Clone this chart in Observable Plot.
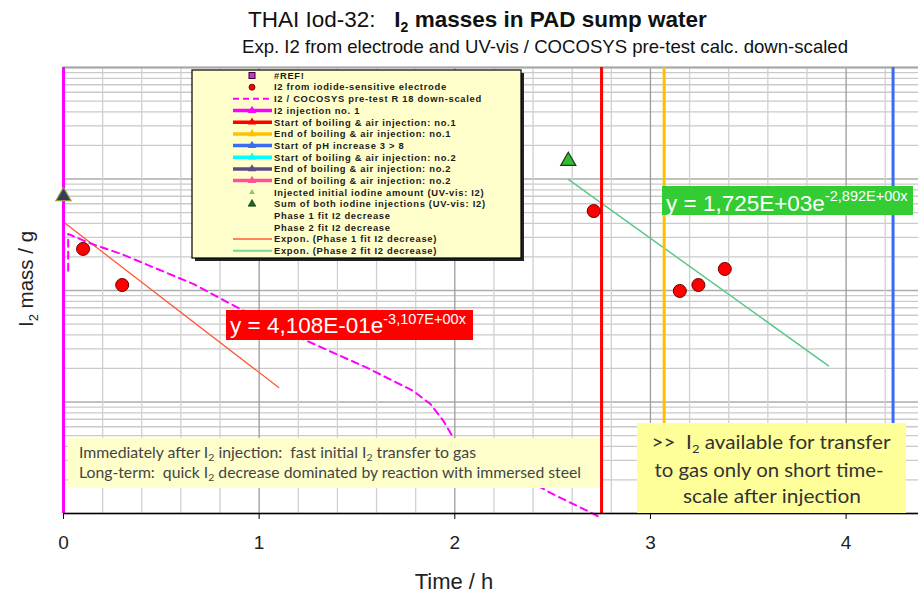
<!DOCTYPE html>
<html><head><meta charset="utf-8">
<script src="https://cdn.jsdelivr.net/npm/d3@7"></script>
<script src="https://cdn.jsdelivr.net/npm/@observablehq/plot@0.6"></script>
<style>
body{margin:0;background:#fff;}
#chart{position:relative;width:918px;height:594px;}
</style>
</head><body><div id="chart"></div>
<script>
// ---- data ----
const electrodeTime = [0.10, 0.30, 2.71, 3.15, 3.245, 3.38];
const electrodeMass = [0.236, 0.112, 0.516, 0.099, 0.112, 0.156];

const cocosysTime = [0.024, 0.024, 0.129, 0.300, 0.666, 0.904, 1.211, 1.553, 1.788, 1.875, 1.942, 1.993, 2.489, 2.73];
const cocosysMass = [0.15, 0.321, 0.268, 0.211, 0.114, 0.068, 0.0375, 0.0202, 0.01256, 0.0096, 0.00676, 0.00475, 0.00153, 0.00095];

const initialInjTime = [0];
const initialInjMass = [0.70];
const sumInjTime = [2.58];
const sumInjMass = [1.45];

const fit1Time = [0, 1.10];
const fit1Mass = [0.4108, 0.01348];
const fit2Time = [2.58, 3.91];
const fit2Mass = [0.991, 0.0211];

const eventTime = [0, 2.75, 3.07, 4.24];
const eventColor = ["#ff00ff", "#ff0000", "#ffc000", "#3b6cf0"];

const xTicks = [0, 1, 2, 3, 4];
const xMinorGrid = [0.2,0.4,0.6,0.8,1.2,1.4,1.6,1.8,2.2,2.4,2.6,2.8,3.2,3.4,3.6,3.8,4.2];
const yDecades = [0.001, 0.01, 0.1, 1, 10];
const yMultipliers = [2,3,4,5,6,7,8,9];

const legendLabels = [
  "#REF!",
  "I2 from iodide-sensitive electrode",
  "I2 / COCOSYS pre-test R 18 down-scaled",
  "I2 injection no. 1",
  "Start of boiling & air injection: no.1",
  "End of boiling & air injection: no.1",
  "Start of pH increase 3 > 8",
  "Start of boiling & air injection: no.2",
  "End of boiling & air injection: no.2",
  "End of boiling & air injection: no.2",
  "Injected initial iodine amount (UV-vis: I2)",
  "Sum of both iodine injections (UV-vis: I2)",
  "Phase 1 fit I2 decrease",
  "Phase 2 fit I2 decrease",
  "Expon. (Phase 1 fit I2 decrease)",
  "Expon. (Phase 2 fit I2 decrease)"
];
const legendLineColors = ["#ff00ff","#ff0000","#ffc000","#3b6cf0","#00ffff","#5c4b8a","#ff4f9a"];

// ---- build tables ----
const electrode = electrodeTime.map((t,i)=>({t, m: electrodeMass[i]}));
const cocosys = cocosysTime.map((t,i)=>({t, m: cocosysMass[i]}));
const initInj = initialInjTime.map((t,i)=>({t, m: initialInjMass[i]}));
const sumInj = sumInjTime.map((t,i)=>({t, m: sumInjMass[i]}));
const fit1 = fit1Time.map((t,i)=>({t, m: fit1Mass[i]}));
const fit2 = fit2Time.map((t,i)=>({t, m: fit2Mass[i]}));
const yMinorGrid = yDecades.slice(0,-1).flatMap(d => yMultipliers.map(k => +(d*k).toPrecision(3)));

const plot = Plot.plot({
  width: 918, height: 594,
  marginTop: 67, marginBottom: 81, marginLeft: 63, marginRight: 0,
  style: {fontFamily: "'Liberation Sans', Arial, sans-serif", background: "#fff", overflow: "visible"},
  x: {domain: [0, 4.37]},
  y: {type: "log", domain: [0.001, 10], axis: null},
  marks: [
    Plot.ruleY(yMinorGrid, {stroke: "#cacaca", strokeWidth: 1.3}),
    Plot.ruleY(yDecades, {stroke: "#adadad", strokeWidth: 1.6}),
    Plot.ruleX(xMinorGrid, {stroke: "#d0d0d0", strokeWidth: 1.3}),
    Plot.ruleX(xTicks.slice(1), {stroke: "#9c9c9c", strokeWidth: 1.3}),
    Plot.ruleY([10], {stroke: "#a8a8a8", strokeWidth: 2}),
    Plot.line(fit1, {x: "t", y: "m", stroke: "#ff5a3a", strokeWidth: 1.3}),
    Plot.line(fit2, {x: "t", y: "m", stroke: "#5cc88a", strokeWidth: 1.5}),
    Plot.line(cocosys, {x: "t", y: "m", stroke: "#ff00ff", strokeWidth: 2, strokeDasharray: "7,5"}),
    ...eventTime.map((t,i) => Plot.ruleX([t], {stroke: eventColor[i], strokeWidth: 3})),
    Plot.ruleY([0.001], {stroke: "#000", strokeWidth: 1.5}),
    Plot.axisX({ticks: xTicks, tickSize: 6, tickPadding: 16, fontSize: 19, label: null, tickFormat: d => d, fill: "#222"}),
    Plot.dot(electrode, {x: "t", y: "m", r: 6.5, fill: "#ff0000", stroke: "#6a0000", strokeWidth: 1}),
    Plot.dot(initInj, {x: "t", y: "m", symbol: "triangle", r: 5.6, fill: "#3b3a5a", stroke: "#8a9a4a", strokeWidth: 1.2}),
    Plot.dot(sumInj, {x: "t", y: "m", symbol: "triangle", r: 5.6, fill: "#33bb33", stroke: "#1d3a1d", strokeWidth: 1.2})
  ]
});
document.getElementById("chart").appendChild(plot);

// ---- overlays (titles, labels, legend, annotation boxes) ----
const svg = d3.select(plot);
function richText(g, x, y, parts, attrs) {
  const t = g.append("text").attr("x", x).attr("y", y).attr("text-anchor", "start");
  for (const [k,v] of Object.entries(attrs||{})) t.attr(k, v);
  let shift = 0;
  for (const p of parts) {
    const s = t.append("tspan").text(p.t);
    let target = p.sub ? p.sub : p.sup ? -p.sup : 0;
    if (target !== shift) { s.attr("dy", target - shift); shift = target; }
    if (p.size) s.attr("font-size", p.size);
    if (p.bold) s.attr("font-weight", "bold");
  }
  return t;
}
const F = "'Liberation Sans', Arial, sans-serif";

// Titles
richText(svg, 248, 27, [
  {t: "THAI Iod-32:   "}, {t: "I", bold: 1}, {t: "2", sub: 5, size: 14, bold: 1}, {t: " masses in PAD sump water", bold: 1}
], {"font-size": 22.5, "font-family": F, fill: "#111"});
svg.append("text").attr("x", 242).attr("y", 53).attr("text-anchor", "start")
  .attr("font-size", 19).attr("font-family", F).attr("fill", "#111")
  .attr("textLength", 606).attr("lengthAdjust", "spacingAndGlyphs")
  .text("Exp. I2 from electrode and UV-vis / COCOSYS pre-test calc. down-scaled");

// Axis labels
richText(svg, 0, 0, [{t: "I"}, {t: "2", sub: 5, size: 13}, {t: " mass / g"}],
  {"text-anchor": "middle", "font-size": 20.5, "font-family": F, fill: "#222", transform: "translate(33,279) rotate(-90)"});
svg.append("text").attr("x", 454).attr("y", 589).attr("text-anchor", "middle")
  .attr("font-size", 22).attr("font-family", F).attr("fill", "#222").text("Time / h");

// Legend
const lg = svg.append("g");
lg.append("rect").attr("x", 195).attr("y", 73).attr("width", 329).attr("height", 188).attr("fill", "#222");
lg.append("rect").attr("x", 192).attr("y", 70).attr("width", 329).attr("height", 188)
  .attr("fill", "#ffffcc").attr("stroke", "#000").attr("stroke-width", 1.2);
legendLabels.forEach((lab, i) => {
  const y = 75.5 + i * 11.68;
  const cx = 252;
  if (i === 0) {
    lg.append("rect").attr("x", cx-3).attr("y", y-3).attr("width", 6).attr("height", 6).attr("fill", "#cc33cc").attr("stroke", "#330033");
  } else if (i === 1) {
    lg.append("circle").attr("cx", cx).attr("cy", y).attr("r", 3).attr("fill", "#ff0000").attr("stroke", "#550000").attr("stroke-width", 0.8);
  } else if (i === 2) {
    lg.append("line").attr("x1", 233).attr("x2", 272).attr("y1", y).attr("y2", y).attr("stroke", "#ff00ff").attr("stroke-width", 2).attr("stroke-dasharray", "6,4");
  } else if (i >= 3 && i <= 9) {
    const c = legendLineColors[i-3];
    lg.append("line").attr("x1", 233).attr("x2", 272).attr("y1", y).attr("y2", y).attr("stroke", c).attr("stroke-width", 3.5);
    lg.append("path").attr("d", d3.symbol(d3.symbolTriangle, 30)()).attr("transform", `translate(${cx},${y})`).attr("fill", c);
  } else if (i === 10) {
    lg.append("path").attr("d", d3.symbol(d3.symbolTriangle, 14)()).attr("transform", `translate(${cx},${y})`).attr("fill", "#8fbf6f");
  } else if (i === 11) {
    lg.append("path").attr("d", d3.symbol(d3.symbolTriangle, 26)()).attr("transform", `translate(${cx},${y})`).attr("fill", "#1a6a1a").attr("stroke", "#0a2a0a").attr("stroke-width", 0.6);
  } else if (i === 14) {
    lg.append("line").attr("x1", 233).attr("x2", 272).attr("y1", y).attr("y2", y).attr("stroke", "#ff5a3a").attr("stroke-width", 1.4);
  } else if (i === 15) {
    lg.append("line").attr("x1", 233).attr("x2", 272).attr("y1", y).attr("y2", y).attr("stroke", "#7ad49a").attr("stroke-width", 2);
  }
  lg.append("text").attr("x", 274).attr("y", y + 3.3).attr("text-anchor", "start").attr("font-size", 9.4).attr("font-family", F)
    .attr("letter-spacing", 0.7).attr("fill", "#1a1a1a").attr("font-weight", "bold").text(lab);
});

// Fit equation labels
svg.append("rect").attr("x", 226).attr("y", 310).attr("width", 247).attr("height", 30).attr("fill", "#ff0000");
richText(svg, 230, 332.5, [{t: "y = 4,108E-01e"}, {t: "-3,107E+00x", sup: 9, size: 14.5}],
  {"font-size": 22.5, "font-family": F, fill: "#fff"});
svg.append("rect").attr("x", 662).attr("y", 186).attr("width", 251).attr("height", 29).attr("fill", "#33cc33");
richText(svg, 666, 210.5, [{t: "y = 1,725E+03e"}, {t: "-2,892E+00x", sup: 10, size: 14.5}],
  {"font-size": 22.5, "font-family": F, fill: "#fff"});

// Annotation box 1
const CAL = "Lato, 'Open Sans', sans-serif";
svg.append("rect").attr("x", 68).attr("y", 438).attr("width", 532).attr("height", 50).attr("fill", "#ffffcc");
richText(svg, 79, 458, [{t: "Immediately after I"}, {t: "2", sub: 3, size: 10}, {t: " injection:  fast initial I"}, {t: "2", sub: 3, size: 10}, {t: " transfer to gas"}],
  {"font-size": 15, "font-family": CAL, fill: "#444", textLength: 397, lengthAdjust: "spacingAndGlyphs"});
richText(svg, 79, 478, [{t: "Long-term:  quick I"}, {t: "2", sub: 3, size: 10}, {t: " decrease dominated by reaction with immersed steel"}],
  {"font-size": 15, "font-family": CAL, fill: "#444", textLength: 502, lengthAdjust: "spacingAndGlyphs"});

// Annotation box 2
svg.append("rect").attr("x", 637).attr("y", 423).attr("width", 269).attr("height", 90).attr("fill", "#ffff99");
richText(svg, 771, 449, [{t: ">>  I"}, {t: "2", sub: 4, size: 12}, {t: " available for transfer"}],
  {"font-size": 19, "font-family": CAL, fill: "#333", "text-anchor": "middle", textLength: 239, lengthAdjust: "spacingAndGlyphs"});
svg.append("text").attr("x", 769).attr("y", 477).attr("text-anchor", "middle").attr("font-size", 19).attr("font-family", CAL)
  .attr("fill", "#333").attr("textLength", 229).attr("lengthAdjust", "spacingAndGlyphs").text("to gas only on short time-");
svg.append("text").attr("x", 772).attr("y", 503).attr("text-anchor", "middle").attr("font-size", 19).attr("font-family", CAL)
  .attr("fill", "#333").attr("textLength", 178).attr("lengthAdjust", "spacingAndGlyphs").text("scale after injection");
</script>
</body></html>
